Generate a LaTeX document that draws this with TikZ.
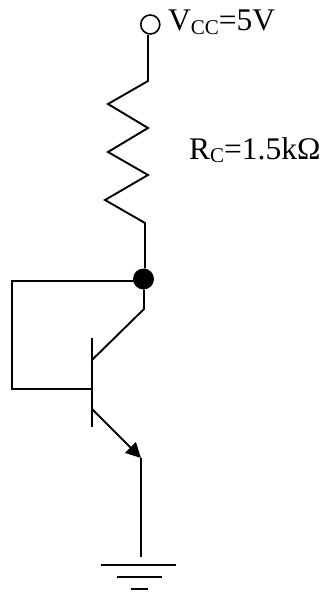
\documentclass[tikz,border=0pt]{standalone}
\usepackage{fontspec}
\setmainfont{Liberation Serif}
\usetikzlibrary{arrows.meta}
\tikzset{
  wire/.style={line width=1.9pt,line join=miter,black},
  lab/.style={inner sep=0pt,anchor=base west,font=\fontsize{31.5}{31.5}\selectfont},
  term/.style={circle,draw,line width=1.6pt,minimum size=19pt,inner sep=0pt},
  junction/.style={circle,fill=black,minimum size=21pt,inner sep=0pt},
  emit/.style={wire,-{Triangle[length=15pt,width=15pt]}}
}
\newcommand{\sbs}[1]{\raisebox{-3pt}{\fontsize{21}{21}\selectfont #1}}
\begin{document}
\begin{tikzpicture}[x=1pt,y=-1pt]
\useasboundingbox (0,0) rectangle (326,594);
\node[term] (vcc) at (150.3,24.5) {};
\node[junction] (dot) at (143.5,279) {};
\node[lab] (lv) at (168,31) {V\sbs{CC}=5V};
\node[lab] (lr) at (189,159) {R\sbs{C}=1.5k\symbol{"03A9}};
\coordinate (r1) at (148,81);
\coordinate (r2) at (145,223);
\coordinate (cb) at (144,309);
\coordinate (ct) at (92,360);
\coordinate (et) at (92,409);
\coordinate (ee) at (141,458);
\coordinate (gt) at (141,557);
\coordinate (bl) at (12,281);
\coordinate (bb) at (12,389);
\coordinate (bt) at (91.5,389);
\coordinate (bar1) at (92,338);
\coordinate (bar2) at (92,427);
\coordinate (g1a) at (100.5,565);
\coordinate (g1b) at (176,565);
\coordinate (g2a) at (117,577);
\coordinate (g2b) at (162,577);
\coordinate (g3a) at (131,589);
\coordinate (g3b) at (148,589);
\draw[wire] (vcc.south -| r1) -- (r1) -- (108,104) -- (148,128) -- (108,152) -- (148,175) -- (105,200) -- (r2) -- (dot.north -| r2);
\draw[wire] (dot |- bl) -- (bl) -- (bb) -- (bt);
\draw[wire] (dot.south -| cb) -- (cb) -- (ct);
\draw[wire] (bar1) -- (bar2);
\draw[emit] (et) -- (ee);
\draw[wire] (ee) -- (gt);
\draw[wire] (g1a) -- (g1b);
\draw[wire] (g2a) -- (g2b);
\draw[wire] (g3a) -- (g3b);
\end{tikzpicture}
\end{document}
